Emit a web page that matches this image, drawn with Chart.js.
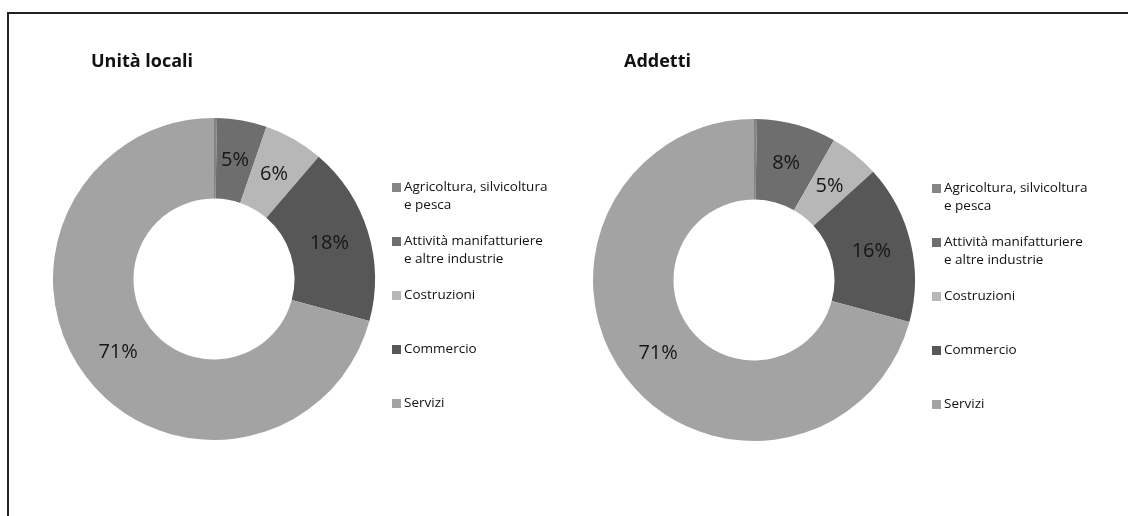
<!DOCTYPE html>
<html>
<head>
<meta charset="utf-8">
<script src="https://cdn.jsdelivr.net/npm/chart.js@4.4.1/dist/chart.umd.min.js"></script>
<style>
  html, body { margin: 0; padding: 0; background: #fff; }
  body { width: 1128px; height: 516px; position: relative; overflow: hidden; }
  .frame { position: absolute; left: 7px; top: 12px; width: 1200px; height: 600px;
           border-left: 2px solid #222; border-top: 2px solid #222; }
  .box { position: absolute; top: 0; width: 564px; height: 516px; }
</style>
</head>
<body>
<div class="frame"></div>
<div class="box" style="left:0"><canvas id="c1" width="564" height="516"></canvas></div>
<div class="box" style="left:564px"><canvas id="c2" width="564" height="516"></canvas></div>
<script>
// categories (legend text, split on the wrapped line)
const categories = [
  ['Agricoltura, silvicoltura', 'e pesca'],
  ['Attività manifatturiere', 'e altre industrie'],
  ['Costruzioni'],
  ['Commercio'],
  ['Servizi']
];
// shares in %
const unitaLocali = [0.3, 5, 6, 18, 71];
const addetti = [0.3, 8, 5, 16, 71];
const colors = ['#858585', '#6e6e6e', '#b7b7b7', '#575757', '#a3a3a3'];

const FONT = '"Open Sans", Lato, sans-serif';

// percent labels, title and the side legend
const extras = {
  id: 'extras',
  afterDatasetsDraw(chart, args, opts) {
    const ctx = chart.ctx;
    const data = chart.data.datasets[0].data;
    const total = data.reduce((a, b) => a + b, 0);
    const meta = chart.getDatasetMeta(0);
    ctx.save();
    ctx.fillStyle = '#161616';
    ctx.font = '20px ' + FONT;
    ctx.textAlign = 'center';
    ctx.textBaseline = 'middle';
    meta.data.forEach((arc, i) => {
      const pct = Math.round(data[i] / total * 100);
      if (pct < 1) return;
      const p = arc.tooltipPosition();
      ctx.fillText(pct + '%', p.x, p.y);
    });
    ctx.restore();
  },
  afterDraw(chart, args, opts) {
    const ctx = chart.ctx;
    const area = chart.chartArea;
    const cy = (area.top + area.bottom) / 2;
    ctx.save();
    // title
    ctx.fillStyle = '#111';
    ctx.font = 'bold 18px ' + FONT;
    ctx.textAlign = 'left';
    ctx.textBaseline = 'middle';
    ctx.fillText(opts.title, opts.titleX, 62);
    // legend
    ctx.font = '13.5px ' + FONT;
    const mx = area.right + 17;
    categories.forEach((lines, i) => {
      const y = cy - 92 + i * 54;
      ctx.fillStyle = colors[i];
      ctx.fillRect(mx, y - 4, 9, 9);
      ctx.fillStyle = '#111';
      lines.forEach((t, j) => ctx.fillText(t, mx + 12, y + j * 18));
    });
    ctx.restore();
  }
};

function makeRing(id, values, title, titleX, padding) {
  return new Chart(document.getElementById(id), {
    type: 'doughnut',
    data: {
      labels: categories.map(c => c.join(' ')),
      datasets: [{
        data: values,
        backgroundColor: colors,
        borderWidth: 0
      }]
    },
    options: {
      responsive: false,
      animation: false,
      cutout: '50%',
      layout: { padding },
      plugins: {
        legend: { display: false },
        tooltip: { enabled: false },
        extras: { title, titleX }
      }
    },
    plugins: [extras]
  });
}

makeRing('c1', unitaLocali, 'Unità locali', 91, { top: 118, bottom: 76, left: 53, right: 189 });
makeRing('c2', addetti, 'Addetti', 60, { top: 119, bottom: 75, left: 29, right: 213 });
</script>
</body>
</html>
